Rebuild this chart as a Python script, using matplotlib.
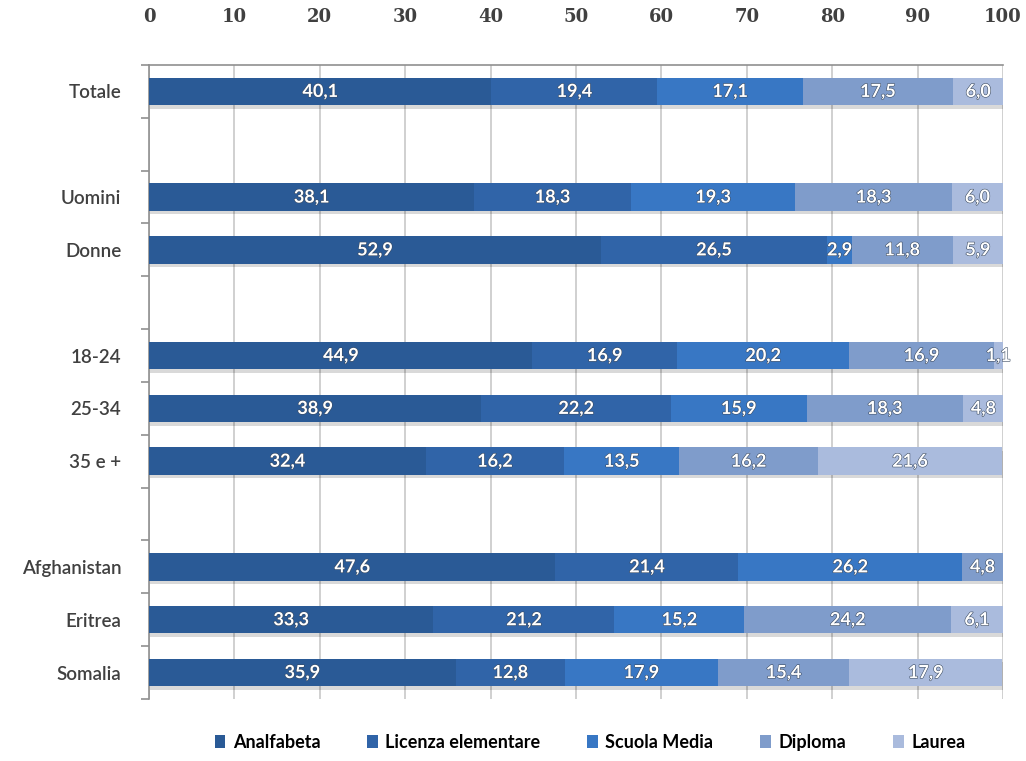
import numpy as np
import matplotlib.pyplot as plt
import matplotlib.patheffects as pe
from matplotlib.patches import Patch

categorie = ["Totale", "", "Uomini", "Donne", "", "18-24", "25-34", "35 e +",
             "", "Afghanistan", "Eritrea", "Somalia"]

analfabeta = [40.1, 0, 38.1, 52.9, 0, 44.9, 38.9, 32.4, 0, 47.6, 33.3, 35.9]
licenza = [19.4, 0, 18.3, 26.5, 0, 16.9, 22.2, 16.2, 0, 21.4, 21.2, 12.8]
media = [17.1, 0, 19.3, 2.9, 0, 20.2, 15.9, 13.5, 0, 26.2, 15.2, 17.9]
diploma = [17.5, 0, 18.3, 11.8, 0, 16.9, 18.3, 16.2, 0, 4.8, 24.2, 15.4]
laurea = [6.0, 0, 6.0, 5.9, 0, 1.1, 4.8, 21.6, 0, 0, 6.1, 17.9]

serie = ["Analfabeta", "Licenza elementare", "Scuola Media", "Diploma", "Laurea"]
colori = ["#2A5A96", "#3064A8", "#3877C4", "#7F9CCB", "#AABBDD"]
valori = [analfabeta, licenza, media, diploma, laurea]

fig = plt.figure(figsize=(10.26, 7.61), dpi=100)
ax = fig.add_axes([0.1452, 0.0815, 0.8324, 0.8331])

y = np.arange(len(categorie))
sinistra = np.zeros(len(categorie))
for nome, col, v in zip(serie, colori, valori):
    v = np.array(v)
    barre = ax.barh(y, v, left=sinistra, height=0.52, color=col, zorder=3)
    for b, val in zip(barre, v):
        if val > 0:
            b.set_path_effects([pe.SimplePatchShadow(offset=(1, -2.5), alpha=0.15, shadow_rgbFace="black"), pe.Normal()])
            ax.text(b.get_x() + val / 2, b.get_y() + b.get_height() / 2,
                    f"{val:.1f}".replace(".", ","), ha="center", va="center",
                    color="white", fontsize=13, fontweight="bold", family="Lato", zorder=4,
                    path_effects=[pe.withStroke(linewidth=0.8, foreground="#3a4a60")])
    sinistra += v

ax.set_xlim(0, 100)
ax.set_ylim(len(categorie) - 0.5, -0.5)
ax.xaxis.tick_top()
ax.set_xticks(np.arange(0, 101, 10))
ax.tick_params(axis="x", length=0, pad=28, labelsize=13, labelcolor="#404040")
for t in ax.get_xticklabels():
    t.set_family("DejaVu Serif")
    t.set_fontweight("bold")
ax.grid(axis="x", color="#c8c8c8", linewidth=1.2, zorder=0)

ax.set_yticks(y)
ax.set_yticklabels(categorie, fontsize=13.5, color="#404040", family="Lato", fontweight="semibold")
ax.tick_params(axis="y", which="major", length=0, pad=20)
ax.set_yticks(np.arange(-0.5, len(categorie), 1), minor=True)
ax.tick_params(axis="y", which="minor", length=6, color="#909090", width=1.2)

for s in ["bottom", "right"]:
    ax.spines[s].set_visible(False)
for s in ["top", "left"]:
    ax.spines[s].set_color("#909090")
    ax.spines[s].set_linewidth(1.2)

maniglie = [Patch(facecolor=c, label=n) for n, c in zip(serie, colori)]
leg = fig.legend(handles=maniglie, loc="lower center", bbox_to_anchor=(0.575, -0.008), ncol=5,
                 frameon=False, handlelength=0.6, handleheight=0.8, handletextpad=0.4,
                 columnspacing=2.6, prop={"family": "Lato", "size": 13, "weight": "bold"})

fig.savefig("out.png", dpi=100)
